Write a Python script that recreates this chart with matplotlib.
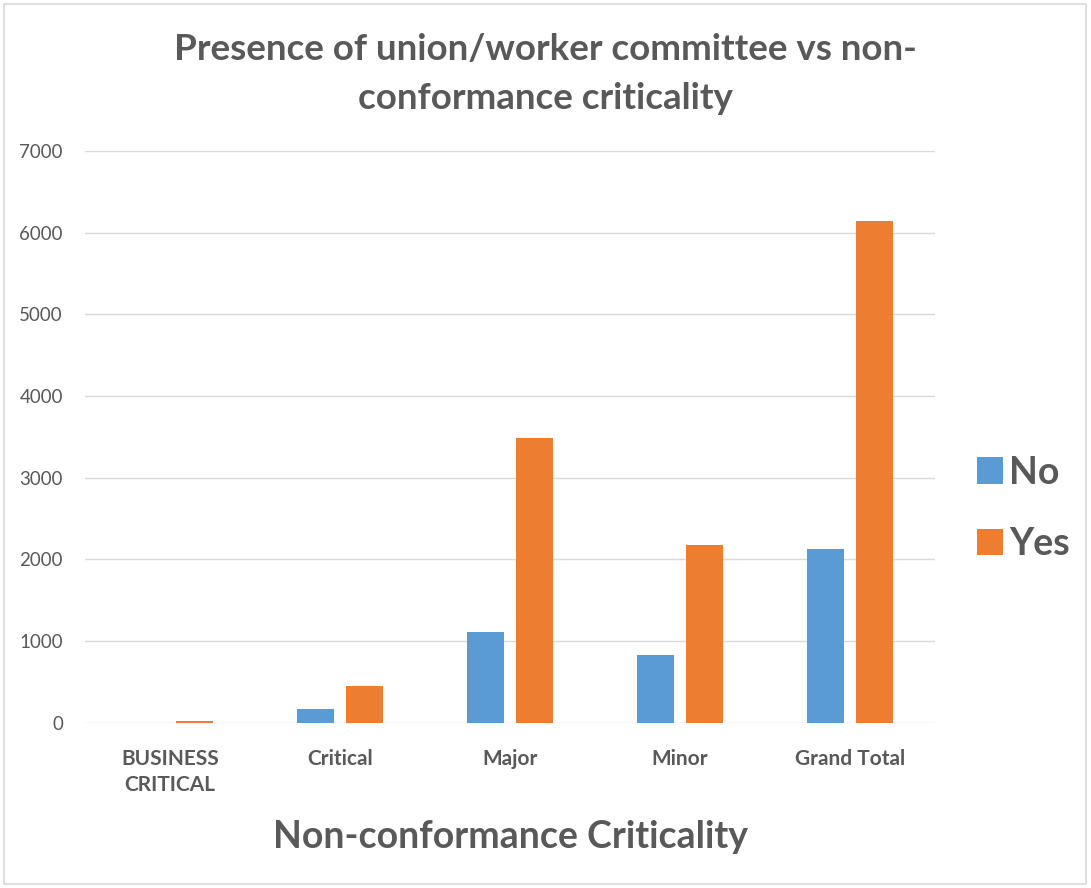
import matplotlib
matplotlib.use('agg')
import matplotlib.pyplot as plt
from matplotlib.patches import Rectangle
import numpy as np

categories = ['BUSINESS\nCRITICAL', 'Critical', 'Major', 'Minor', 'Grand Total']
no_counts = [2, 170, 1115, 835, 2122]
yes_counts = [25, 450, 3490, 2180, 6145]
series_names = ['No', 'Yes']
yticks = [0, 1000, 2000, 3000, 4000, 5000, 6000, 7000]

blue = '#5B9BD5'
orange = '#ED7D31'
text_gray = '#595959'
grid_gray = '#D9D9D9'

plt.rcParams['font.family'] = ['Lato', 'DejaVu Sans']

fig = plt.figure(figsize=(10.91, 8.88), dpi=100)
# thin frame round the whole chart
fig.patches.append(Rectangle((0.004, 0.004), 0.991, 0.992, transform=fig.transFigure,
                             fill=False, edgecolor='#D9D9D9', linewidth=1.2))

ax = fig.add_axes([0.078, 0.186, 0.779, 0.644])
x = np.arange(len(categories))
w = 0.218
ax.bar(x - 0.144, no_counts, w, color=blue, label=series_names[0], zorder=3)
ax.bar(x + 0.144, yes_counts, w, color=orange, label=series_names[1], zorder=3)

ax.set_xlim(-0.5, len(categories) - 0.5)
ax.set_ylim(0, 7000)
ax.set_yticks(yticks)
ax.set_yticklabels([str(t) for t in yticks], fontsize=13.5, color=text_gray)
ax.set_xticks(x)
ax.set_xticklabels(categories, fontsize=15, fontweight='bold', color=text_gray,
                   linespacing=1.35)
ax.tick_params(axis='both', length=0)
ax.tick_params(axis='y', pad=16)
ax.tick_params(axis='x', pad=19)
ax.grid(axis='y', color=grid_gray, linewidth=1, zorder=0)
for s in ax.spines.values():
    s.set_visible(False)

ax.set_xlabel('Non-conformance Criticality', fontsize=27, fontweight='bold',
              color=text_gray, labelpad=18)
fig.text(0.5, 0.917, 'Presence of union/worker committee vs non-\nconformance criticality',
         ha='center', va='center', fontsize=26.5, fontweight='bold', color=text_gray,
         linespacing=1.6)

leg = ax.legend(loc='center left', bbox_to_anchor=(1.01, 0.375), frameon=False,
                fontsize=27, handlelength=0.7, handleheight=0.7, handletextpad=0.15,
                labelspacing=1.0)
for t in leg.get_texts():
    t.set_color(text_gray)
    t.set_fontweight('bold')

fig.savefig('out.png', dpi=100)
